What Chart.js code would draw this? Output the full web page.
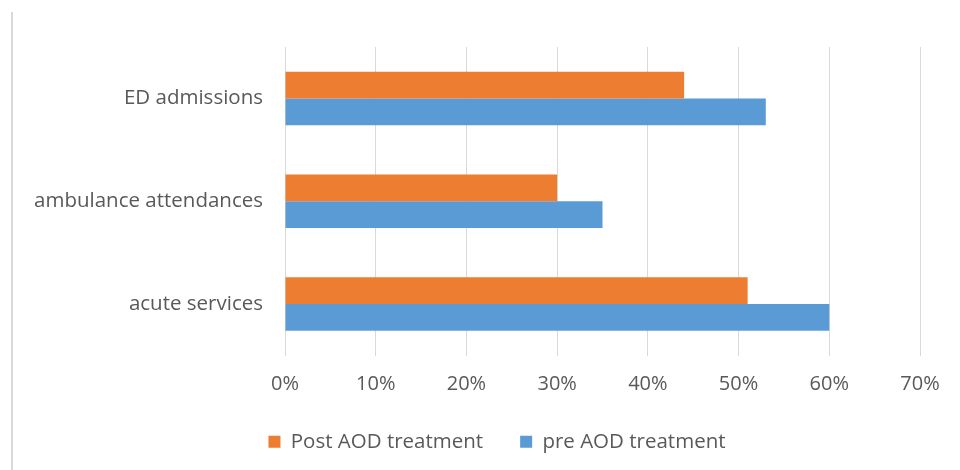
<!DOCTYPE html>
<html>
<head>
<meta charset="utf-8">
<script src="https://cdn.jsdelivr.net/npm/chart.js@4"></script>
<style>
  html,body{margin:0;padding:0;background:#fff;}
  #wrap{position:relative;width:960px;height:470px;}
  #bar{position:absolute;left:11px;top:12px;width:2px;height:458px;background:#d9d9d9;}
  canvas{position:absolute;left:0;top:0;}
</style>
</head>
<body>
<div id="wrap">
  <div id="bar"></div>
  <canvas id="c" width="960" height="470"></canvas>
</div>
<script>
const categories = ["ED admissions", "ambulance attendances", "acute services"];
const postAOD = [44, 30, 51];
const preAOD = [53, 35, 60];
const seriesNames = ["Post AOD treatment", "pre AOD treatment"];
const xTicks = [0, 10, 20, 30, 40, 50, 60, 70];

const FONT = "Open Sans";
const TEXT = "#595959";

const legendShift = {
  id: "legendShift",
  afterLayout(chart) {
    if (chart.legend) { chart.legend.left += 37; chart.legend.right += 37; }
  }
};

new Chart(document.getElementById("c"), {
  type: "bar",
  data: {
    labels: categories,
    datasets: [
      { label: seriesNames[0], data: postAOD, backgroundColor: "#ED7D31", borderWidth: 0 },
      { label: seriesNames[1], data: preAOD, backgroundColor: "#5B9BD5", borderWidth: 0 }
    ]
  },
  plugins: [legendShift],
  options: {
    indexAxis: "y",
    responsive: false,
    animation: false,
    devicePixelRatio: 1,
    categoryPercentage: 0.52,
    barPercentage: 1,
    layout: { padding: { top: 47, right: 40, left: 0, bottom: 8 } },
    plugins: {
      legend: {
        position: "bottom",
        labels: {
          font: { family: FONT, size: 20.5 },
          color: TEXT,
          boxWidth: 12,
          boxHeight: 12,
          padding: 37
        }
      },
      tooltip: { enabled: false }
    },
    scales: {
      x: {
        min: 0, max: 70,
        afterBuildTicks: (s) => { s.ticks = xTicks.map(v => ({ value: v })); },
        afterFit: (s) => { s.height = 39; },
        ticks: {
          callback: (v) => v + "%",
          font: { family: FONT, size: 20 },
          color: TEXT,
          padding: 17
        },
        grid: { color: "#d9d9d9", lineWidth: 1, drawTicks: false },
        border: { display: false }
      },
      y: {
        afterFit: (s) => { s.width = 285; },
        ticks: {
          font: { family: FONT, size: 20.5 },
          color: TEXT,
          padding: 14
        },
        grid: { display: false },
        border: { display: false }
      }
    }
  }
});
</script>
</body>
</html>
